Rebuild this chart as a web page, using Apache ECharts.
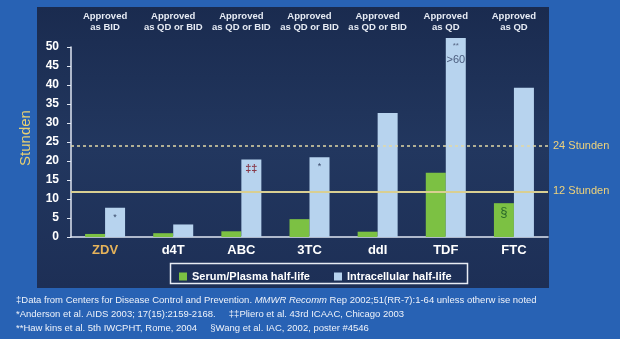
<!DOCTYPE html>
<html><head><meta charset="utf-8">
<script src="https://cdn.jsdelivr.net/npm/echarts@6/dist/echarts.min.js"></script>
<style>html,body{margin:0;padding:0;background:#2862b4;}#c{width:620px;height:339px;}</style>
</head><body><div id="c"></div>
<script>
const categories = ['ZDV','d4T','ABC','3TC','ddI','TDF','FTC'];
const approvals = ['Approved\nas BID','Approved\nas QD or BID','Approved\nas QD or BID','Approved\nas QD or BID','Approved\nas QD or BID','Approved\nas QD','Approved\nas QD'];
const serumHalfLife = [0.8, 1.0, 1.5, 4.7, 1.4, 16.9, 8.9];
const intracellularHalfLife = [7.7, 3.3, 20.4, 21.0, 32.6, 52.4, 39.3];
const yTicks = [0, 5, 10, 15, 20, 25, 30, 35, 40, 45, 50];
const refLines = [{value: 24, label: '24 Stunden', dashed: true}, {value: 12, label: '12 Stunden', dashed: false}];
const intraNotes = ['*', '', '‡‡', '*', '', '**\n>60', ''];
const serumNotes = ['', '', '', '', '', '', '§'];
const footnotes = [
  '‡Data from Centers for Disease Control and Prevention. {i|MMWR Recomm} Rep 2002;51(RR-7):1-64 unless otherw ise noted',
  '*Anderson et al. AIDS 2003; 17(15):2159-2168.     ‡‡Pliero et al. 43rd ICAAC, Chicago 2003',
  '**Haw kins et al. 5th IWCPHT, Rome, 2004     §Wang et al. IAC, 2002, poster #4546'
];

const chart = echarts.init(document.getElementById('c'));
const FONT = 'Liberation Sans, Arial, sans-serif';

const intraData = intracellularHalfLife.map((v, i) => {
  const n = intraNotes[i];
  if (!n) return v;
  let label;
  if (n === '**\n>60') {
    label = {show: true, position: 'insideTop', distance: 2, formatter: '{a|**}\n{b|>60}',
      rich: {a: {fontSize: 8, color: '#5a6a88', lineHeight: 12}, b: {fontSize: 11, color: '#4a5c7e', lineHeight: 16}}};
  } else if (n === '‡‡') {
    label = {show: true, position: 'insideTop', distance: 4, formatter: n, color: '#8a3a4a', fontSize: 11, fontWeight: 'bold', fontFamily: FONT};
  } else {
    label = {show: true, position: 'insideTop', distance: 5, formatter: n, color: '#3a4a6a', fontSize: 9, fontFamily: FONT};
  }
  return {value: v, label};
});
const serumData = serumHalfLife.map((v, i) => {
  const n = serumNotes[i];
  if (!n) return v;
  return {value: v, label: {show: true, position: 'insideTop', distance: 3, formatter: n, color: '#2a6a2a', fontSize: 13, fontFamily: FONT}};
});

const option = {
  animation: false,
  backgroundColor: '#2862b4',
  textStyle: {fontFamily: FONT},
  graphic: [
    {type: 'rect', z: -10, shape: {x: 37, y: 7, width: 512, height: 281},
      style: {fill: {type: 'linear', x: 0, y: 0, x2: 0, y2: 1, colorStops: [
        {offset: 0, color: '#1a2b4f'}, {offset: 0.5, color: '#22375f'}, {offset: 1, color: '#1d2f56'}]}}},
    {type: 'rect', z: 5, shape: {x: 170.5, y: 263.5, width: 297, height: 20},
      style: {fill: 'none', stroke: '#e8ecf4', lineWidth: 1.5}},
    {type: 'text', z: 5, x: 26, y: 138, rotation: Math.PI / 2,
      style: {text: 'Stunden', fill: '#e8cf72', font: '15px ' + FONT, textAlign: 'center', textVerticalAlign: 'middle'}},
    ...footnotes.map((t, i) => ({type: 'text', z: 5, left: 16, top: 295.5 + i * 14,
      style: {text: t, fill: '#eef2fa', fontSize: 9.5, fontFamily: 'Liberation Sans Narrow, Arial Narrow, ' + FONT,
        rich: {i: {fontStyle: 'italic', fontSize: 9.5, fill: '#eef2fa', fontFamily: 'Liberation Sans Narrow, Arial Narrow, ' + FONT}}}}))
  ],
  grid: {left: 71, right: 72, top: 47, bottom: 102},
  legend: {
    data: ['Serum/Plasma half-life', 'Intracellular half-life'],
    left: 174, top: 266, itemWidth: 8, itemHeight: 8, itemGap: 24, icon: 'rect',
    textStyle: {color: '#ffffff', fontWeight: 'bold', fontSize: 11, fontFamily: FONT}
  },
  xAxis: [
    {type: 'category', data: categories, position: 'bottom',
      axisLine: {lineStyle: {color: '#dfe6f2', width: 1.5}}, axisTick: {show: false},
      axisLabel: {margin: 7, fontSize: 13, fontWeight: 'bold', fontFamily: FONT,
        color: (v) => v === 'ZDV' ? '#e6b35a' : '#ffffff'}},
    {type: 'category', data: approvals, position: 'top',
      axisLine: {show: false}, axisTick: {show: false},
      axisLabel: {interval: 0, margin: 14, fontSize: 9.5, fontWeight: 'bold', lineHeight: 11, color: '#e6ebf4', fontFamily: FONT}}
  ],
  yAxis: {type: 'value', min: 0, max: 50, interval: 5,
    axisLine: {show: true, lineStyle: {color: '#dfe6f2', width: 1.5}},
    axisTick: {show: true, length: 4, lineStyle: {color: '#dfe6f2'}},
    splitLine: {show: false},
    axisLabel: {margin: 12, fontSize: 12, fontWeight: 'bold', color: '#ffffff', fontFamily: FONT,
      formatter: (v) => yTicks.includes(v) ? String(v) : ''}},
  series: [
    {name: 'refs', type: 'line', data: [], z: 1, silent: true,
      markLine: {symbol: 'none', silent: true,
        data: refLines.map(r => ({yAxis: r.value,
          lineStyle: {color: r.dashed ? '#e2d9a6' : '#d9cf92', type: r.dashed ? [3, 3] : 'solid', width: r.dashed ? 1.5 : 2},
          label: {show: true, position: 'end', formatter: r.label, color: '#efd27a', fontSize: 11, distance: 5, fontFamily: FONT}}))}},
    {name: 'Serum/Plasma half-life', type: 'bar', data: serumData, barWidth: 20, barGap: '0%', z: 3, clip: false,
      itemStyle: {color: '#7cc143'}},
    {name: 'Intracellular half-life', type: 'bar', data: intraData, barWidth: 20, barGap: '0%', z: 3, clip: false,
      itemStyle: {color: '#b7d3ee'}}
  ]
};
chart.setOption(option);
</script></body></html>
